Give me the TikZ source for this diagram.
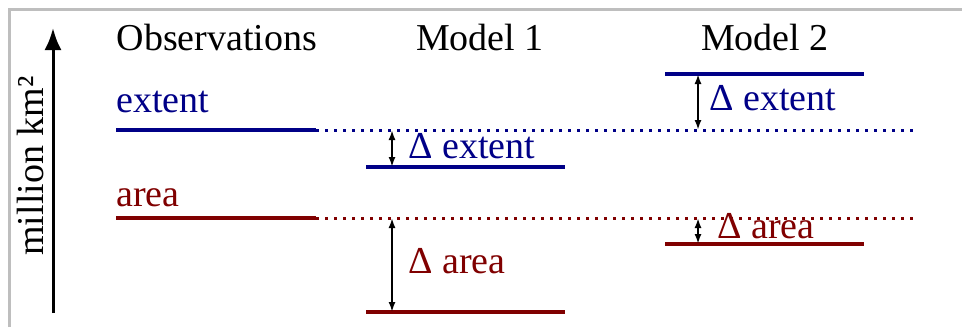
\documentclass[tikz,border=0pt]{standalone}
\usepackage{fontspec}
\setmainfont{Liberation Serif}
\usetikzlibrary{arrows.meta,positioning}
\definecolor{iceblue}{RGB}{0,0,135}
\definecolor{icered}{RGB}{128,0,0}
\definecolor{framegray}{RGB}{190,190,190}

\begin{document}
\begin{tikzpicture}[x=0.5pt, y=-0.5pt,
  lbl/.style={font=\fontsize{19}{22}\selectfont, inner sep=0pt},
  bar/.style={line width=2pt},
  refline/.style={line width=1.5pt, dash pattern=on 1.5pt off 3pt},
  delta/.style={line width=1.1pt, {Latex[length=5pt,width=3.5pt]}-{Latex[length=5pt,width=3.5pt]}}]
\useasboundingbox (0,0) rectangle (962,327);
% frame (top and left only)
\draw[framegray, line width=1.5pt] (9,327) -- (9,9) -- (962,9);
% vertical axis
\coordinate (ax0) at (53,313);
\coordinate (ax1) at (53,28);
\draw[line width=1.5pt, -{Latex[length=11pt,width=8.5pt]}] (ax0) -- (ax1);
\node[lbl, rotate=90, anchor=base] (unit) at (43,166) {million km²};
% column heads
\node[lbl, anchor=base] (obs) at (217,50) {Observations};
\node[lbl, anchor=base] (m1) at (480,50) {Model 1};
\node[lbl, anchor=base] (m2) at (765,50) {Model 2};
% observed levels
\coordinate (oe0) at (116,130); \coordinate (oe1) at (316,130);
\coordinate (oa0) at (116,218); \coordinate (oa1) at (316,218);
\coordinate (re1) at (918,130); \coordinate (ra1) at (918,218);
\draw[bar, iceblue] (oe0) -- (oe1);
\draw[bar, icered] (oa0) -- (oa1);
\draw[refline, iceblue] (oe1) -- (re1);
\draw[refline, icered] (oa1) -- (ra1);
\node[lbl, text=iceblue, anchor=base west] (oext) at (116,112) {extent};
\node[lbl, text=icered, anchor=base west] (oarea) at (116,206) {area};
% model 1
\coordinate (ae0) at (366,167); \coordinate (ae1) at (565,167);
\coordinate (aa0) at (366,312); \coordinate (aa1) at (565,312);
\draw[bar, iceblue] (ae0) -- (ae1);
\draw[bar, icered] (aa0) -- (aa1);
\coordinate (ade0) at (392,130); \coordinate (ade1) at (392,167);
\coordinate (ada0) at (392,218); \coordinate (ada1) at (392,312);
\draw[delta] (ade0) -- (ade1);
\draw[delta] (ada0) -- (ada1);
\node[lbl, text=iceblue, anchor=base west] (m1ext) at (408,158) {Δ extent};
\node[lbl, text=icered, anchor=base west] (m1area) at (408,273) {Δ area};
% model 2
\coordinate (be0) at (665,74); \coordinate (be1) at (864,74);
\coordinate (ba0) at (665,244); \coordinate (ba1) at (864,244);
\draw[bar, iceblue] (be0) -- (be1);
\draw[bar, icered] (ba0) -- (ba1);
\coordinate (bde0) at (698,74); \coordinate (bde1) at (698,130);
\coordinate (bda0) at (698,218); \coordinate (bda1) at (698,244);
\draw[delta] (bde0) -- (bde1);
\draw[delta] (bda0) -- (bda1);
\node[lbl, text=iceblue, anchor=base west] (m2ext) at (709,110) {Δ extent};
\node[lbl, text=icered, anchor=base west] (m2area) at (717,238) {Δ area};
\end{tikzpicture}
\end{document}
